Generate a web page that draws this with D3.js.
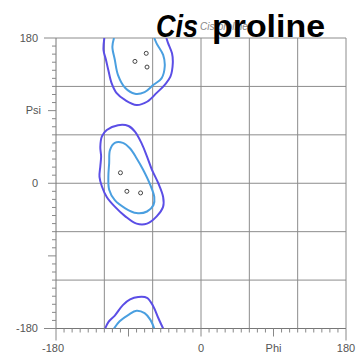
<!DOCTYPE html>
<html>
<head>
<meta charset="utf-8">
<script src="https://d3js.org/d3.v7.min.js"></script>
<style>
  body { margin: 0; background: #fff; }
  text { font-family: "Liberation Sans", Arial, sans-serif; }
</style>
</head>
<body>
<svg id="chart" width="358" height="353"></svg>
<script>
// contour lines, as [phi, psi]
var topOuter = [[-120,180],[-121,165],[-118,153],[-115,140],[-111,124],[-105,112],[-94,103],[-80,97],[-67,101],[-55,112],[-45,122],[-38,132],[-35,149],[-36,161],[-41,174],[-43,180]];
var topInner = [[-108,180],[-110,169],[-107,153],[-103,134],[-94,118],[-82,111],[-70,113],[-59,122],[-49,130],[-45,145],[-47,159],[-55,173],[-58,180]];
var midOuter = [[-103,72],[-117,66],[-123,58],[-125,45],[-124,33],[-125,21],[-126,8],[-123,-4],[-117,-17],[-107,-29],[-94,-41],[-80,-50],[-67,-50],[-55,-41],[-47,-29],[-47,-17],[-53,0],[-61,17],[-67,33],[-74,50],[-82,64],[-90,71]];
var midInner = [[-107,50],[-113,41],[-114,25],[-115,8],[-114,-8],[-107,-21],[-94,-31],[-80,-37],[-67,-35],[-59,-27],[-58,-17],[-63,-2],[-72,17],[-80,31],[-88,43],[-97,50]];
var botOuter = [[-119,-180],[-115,-172],[-107,-164],[-97,-151],[-88,-144],[-78,-141],[-67,-142],[-59,-153],[-53,-167],[-47,-180]];
var botInner = [[-108,-180],[-101,-171],[-90,-163],[-80,-158],[-70,-161],[-63,-169],[-58,-180]];
var points = [[-82,151],[-68,161],[-67,144],[-100,13],[-92,-10],[-75,-12]];
var gridVals = [-120, -60, 0, 60, 120, 180];
var yLab = [[-180, "-180"], [0, "0"], [90, "Psi"], [180, "180"]];
var xLab = [[-180, "-180"], [0, "0"], [90, "Phi"], [180, "180"]];

var svg = d3.select("#chart");
var x = d3.scaleLinear().domain([-180, 180]).range([56, 346]);
var y = d3.scaleLinear().domain([-180, 180]).range([328.5, 38]);

svg.append("defs").append("clipPath").attr("id", "plot")
  .append("rect").attr("x", 56).attr("y", 38).attr("width", 290).attr("height", 290.5);

// small title behind the big one
svg.append("text")
  .attr("x", 200).attr("y", 30)
  .attr("font-size", 10).attr("font-style", "italic")
  .attr("fill", "#888")
  .text("Cis-proline");

// grid
var grid = svg.append("g").attr("stroke", "#8c8c8c").attr("stroke-width", 1);
grid.selectAll("line.v").data(gridVals).enter().append("line")
  .attr("x1", function(d) { return x(d); }).attr("x2", function(d) { return x(d); })
  .attr("y1", y(180)).attr("y2", y(-180));
grid.selectAll("line.h").data(gridVals).enter().append("line")
  .attr("y1", function(d) { return y(d); }).attr("y2", function(d) { return y(d); })
  .attr("x1", x(-180)).attr("x2", x(180));

function tickLen(d) {
  if (Math.abs(d) == 180) return 12;
  if (d % 90 == 0) return 8;
  return 4;
}
var ticks = d3.range(-180, 181, 10);

// left axis
var yAxis = svg.append("g").attr("transform", "translate(" + x(-180) + ",0)");
yAxis.append("line").attr("y1", y(180)).attr("y2", y(-180)).attr("stroke", "#777");
yAxis.selectAll("line.t").data(ticks).enter().append("line")
  .attr("x1", function(d) { return -tickLen(d); }).attr("x2", 0)
  .attr("y1", function(d) { return y(d); }).attr("y2", function(d) { return y(d); })
  .attr("stroke", "#888");
yAxis.selectAll("text").data(yLab).enter().append("text")
  .attr("x", function(d) { return d[1] == "Psi" ? -15 : -18; })
  .attr("y", function(d) { return y(d[0]); })
  .attr("dy", "0.35em")
  .attr("text-anchor", "end")
  .attr("font-size", 11).attr("fill", "#555")
  .text(function(d) { return d[1]; });

// bottom axis
var xAxis = svg.append("g").attr("transform", "translate(0," + y(-180) + ")");
xAxis.append("line").attr("x1", x(-180)).attr("x2", x(180)).attr("stroke", "#777");
xAxis.selectAll("line.t").data(ticks).enter().append("line")
  .attr("y1", 0).attr("y2", function(d) { return tickLen(d); })
  .attr("x1", function(d) { return x(d); }).attr("x2", function(d) { return x(d); })
  .attr("stroke", "#888");
xAxis.selectAll("text").data(xLab).enter().append("text")
  .attr("x", function(d) { return x(d[0]) - (d[1] == "-180" ? 3 : 0); })
  .attr("y", 23)
  .attr("text-anchor", "middle")
  .attr("font-size", 11).attr("fill", "#555")
  .text(function(d) { return d[1]; });

// contours
var openLine = d3.line().x(function(d) { return x(d[0]); }).y(function(d) { return y(d[1]); })
  .curve(d3.curveCatmullRom);
var closedLine = d3.line().x(function(d) { return x(d[0]); }).y(function(d) { return y(d[1]); })
  .curve(d3.curveCatmullRomClosed);
var cont = svg.append("g").attr("clip-path", "url(#plot)").attr("fill", "none").attr("stroke-width", 2);
var outerCol = "#5b4ee6", innerCol = "#4a9fe0";
cont.append("path").attr("d", openLine(topOuter)).attr("stroke", outerCol);
cont.append("path").attr("d", openLine(topInner)).attr("stroke", innerCol);
cont.append("path").attr("d", closedLine(midOuter)).attr("stroke", outerCol);
cont.append("path").attr("d", closedLine(midInner)).attr("stroke", innerCol);
cont.append("path").attr("d", openLine(botOuter)).attr("stroke", outerCol);
cont.append("path").attr("d", openLine(botInner)).attr("stroke", innerCol);

svg.selectAll("circle").data(points).enter().append("circle")
  .attr("cx", function(d) { return x(d[0]); })
  .attr("cy", function(d) { return y(d[1]); })
  .attr("r", 2)
  .attr("fill", "#fff").attr("stroke", "#444").attr("stroke-width", 1);

// big title
var title = svg.append("text")
  .attr("x", 156).attr("y", 37)
  .attr("font-family", "'Open Sans', 'Liberation Sans', sans-serif")
  .attr("font-size", 32).attr("font-weight", "bold").attr("fill", "#000");
title.append("tspan").attr("font-style", "italic").attr("textLength", 42).attr("lengthAdjust", "spacingAndGlyphs").text("Cis");
title.append("tspan").attr("x", 212).attr("textLength", 113).attr("lengthAdjust", "spacingAndGlyphs").text("proline");
</script>
</body>
</html>
